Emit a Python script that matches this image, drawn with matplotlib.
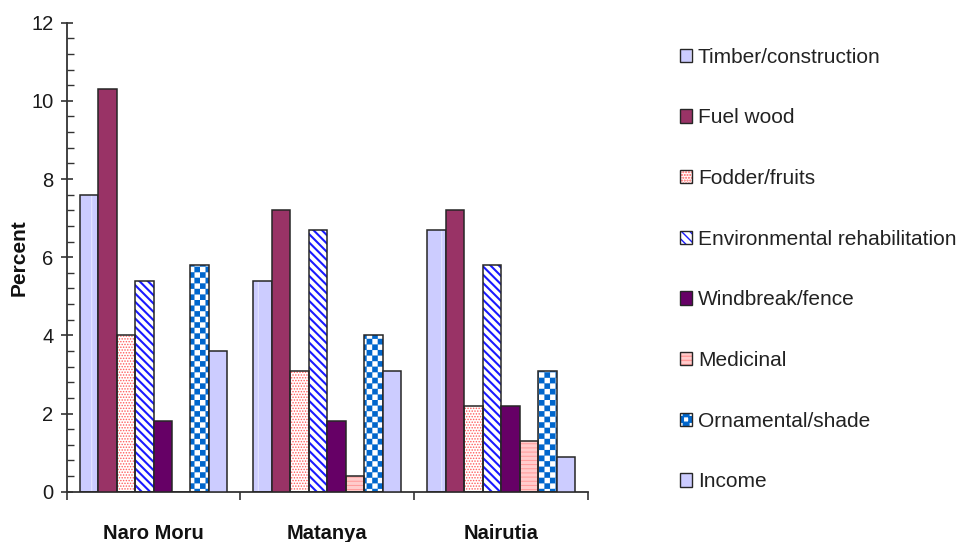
import warnings

import matplotlib
matplotlib.use('Agg')
import matplotlib.pyplot as plt
import matplotlib.patches as mpatches
import matplotlib.hatch as mhatch
from matplotlib.path import Path
from matplotlib.ticker import MultipleLocator
import numpy as np

warnings.filterwarnings('ignore', message='.*hatch.*')

plt.rcParams['font.family'] = ['Liberation Sans', 'DejaVu Sans']

sites = ['Naro Moru', 'Matanya', 'Nairutia']
uses = ['Timber/construction', 'Fuel wood', 'Fodder/fruits',
        'Environmental rehabilitation', 'Windbreak/fence', 'Medicinal',
        'Ornamental/shade', 'Income']

timber = [7.6, 5.4, 6.7]
fuel_wood = [10.3, 7.2, 7.2]
fodder = [4.0, 3.1, 2.2]
environmental = [5.4, 6.7, 5.8]
windbreak = [1.8, 1.8, 2.2]
medicinal = [0.0, 0.4, 1.3]
ornamental = [5.8, 4.0, 3.1]
income = [3.6, 3.1, 0.9]

series = [timber, fuel_wood, fodder, environmental, windbreak,
          medicinal, ornamental, income]

# (fill, hatch, hatch colour) per series
STYLES = [
    ('#CCCCFF', '|', '#E4E4FF'),
    ('#993366', None, None),
    ('#FFFFFF', '......', '#FF5A5A'),
    ('#FFFFFF', '\\\\\\\\', '#1A1AFF'),
    ('#660066', None, None),
    ('#FFCCCC', '----', '#FF9999'),
    ('#FFFFFF', 'ccc', '#0066CC'),
    ('#CCCCFF', None, None),
]
HATCH_LW = {'|': 0.8, '......': 0.7, '\\\\\\\\': 1.5, '----': 0.7, 'ccc': 0.1}
EDGE = '#262626'


class CheckerHatch(mhatch.HatchPatternBase):
    """Filled squares in a checkerboard, selected with 'c' in a hatch string."""

    def __init__(self, hatch, density):
        self.n = hatch.count('c') * density
        cells = sum(1 for i in range(self.n) for j in range(self.n) if (i + j) % 2 == 0)
        self.num_vertices = 5 * cells

    def set_vertices_and_codes(self, vertices, codes):
        s = 1.0 / self.n
        k = 0
        for i in range(self.n):
            for j in range(self.n):
                if (i + j) % 2:
                    continue
                x, y = i * s, j * s
                vertices[k:k + 5] = [(x, y), (x + s, y), (x + s, y + s), (x, y + s), (x, y)]
                codes[k:k + 5] = [Path.MOVETO, Path.LINETO, Path.LINETO,
                                  Path.LINETO, Path.CLOSEPOLY]
                k += 5


mhatch._hatch_types.append(CheckerHatch)


def _hatched(ax_or_none, fill, hatch, hcolor, **kw):
    lw = HATCH_LW.get(hatch, 1.0)
    with plt.rc_context({'hatch.linewidth': lw}):
        if ax_or_none is None:
            p = mpatches.Patch(facecolor=fill, hatch=hatch, edgecolor=hcolor, linewidth=0)
            objs = [p]
        else:
            bars = ax_or_none.bar(facecolor=fill, hatch=hatch, edgecolor=hcolor,
                                  linewidth=0, **kw)
            objs = list(bars)
    for p in objs:
        if hasattr(p, 'set_hatch_linewidth'):
            p.set_hatch_linewidth(lw)
    return objs


fig = plt.figure(figsize=(9.58, 5.42), dpi=100)
ax = fig.add_axes([0.0696, 0.0928, 0.5442, 0.8654])

x = np.arange(len(sites))
n = len(series)
group_w = 0.85
w = group_w / n

handles = []
for i, (vals, (fill, hatch, hcolor)) in enumerate(zip(series, STYLES)):
    pos = x - group_w / 2 + w * (i + 0.5)
    if hatch:
        _hatched(ax, fill, hatch, hcolor, x=pos, height=vals, width=w, zorder=2)
        ax.bar(pos, vals, w, facecolor='none', edgecolor=EDGE, linewidth=1.1, zorder=3)
        h_fill = _hatched(None, fill, hatch, hcolor)[0]
        h_edge = mpatches.Patch(facecolor='none', edgecolor=EDGE, linewidth=1.0)
        handles.append((h_fill, h_edge))
    else:
        ax.bar(pos, vals, w, facecolor=fill, edgecolor=EDGE, linewidth=1.1, zorder=3)
        handles.append(mpatches.Patch(facecolor=fill, edgecolor=EDGE, linewidth=1.0))

ax.set_xlim(-0.5, 2.5)
ax.set_ylim(0, 12)

for side in ['top', 'right']:
    ax.spines[side].set_visible(False)
for side in ['left', 'bottom']:
    ax.spines[side].set_color('#333333')
    ax.spines[side].set_linewidth(1.3)

ax.yaxis.set_major_locator(MultipleLocator(2))
ax.yaxis.set_minor_locator(MultipleLocator(0.4))
ax.tick_params(axis='y', which='major', direction='inout', length=9, width=1.2,
               colors='#333333', labelsize=14.5, labelcolor='#1a1a1a', pad=5)
ax.tick_params(axis='y', which='minor', direction='in', length=5, width=1.0,
               colors='#333333')

ax.set_xticks([-0.5, 0.5, 1.5, 2.5])
ax.set_xticklabels([])
ax.tick_params(axis='x', which='major', direction='out', length=6, width=1.2,
               colors='#333333')
ax.set_xticks(x, minor=True)
ax.set_xticklabels(sites, minor=True, fontsize=14.5, fontweight='bold', color='#111111')
ax.tick_params(axis='x', which='minor', length=0, pad=23)

ax.set_ylabel('Percent', fontsize=15, fontweight='bold', color='#111111', labelpad=2)

ax.legend(handles, uses, loc='upper left', bbox_to_anchor=(0.710, 0.912),
          bbox_transform=fig.transFigure, frameon=False, fontsize=15,
          handlelength=0.55, handleheight=0.6, handletextpad=0.3,
          labelspacing=2.0, borderpad=0, borderaxespad=0,
          labelcolor='#222222')

fig.savefig('out.png', dpi=100, facecolor='white')
